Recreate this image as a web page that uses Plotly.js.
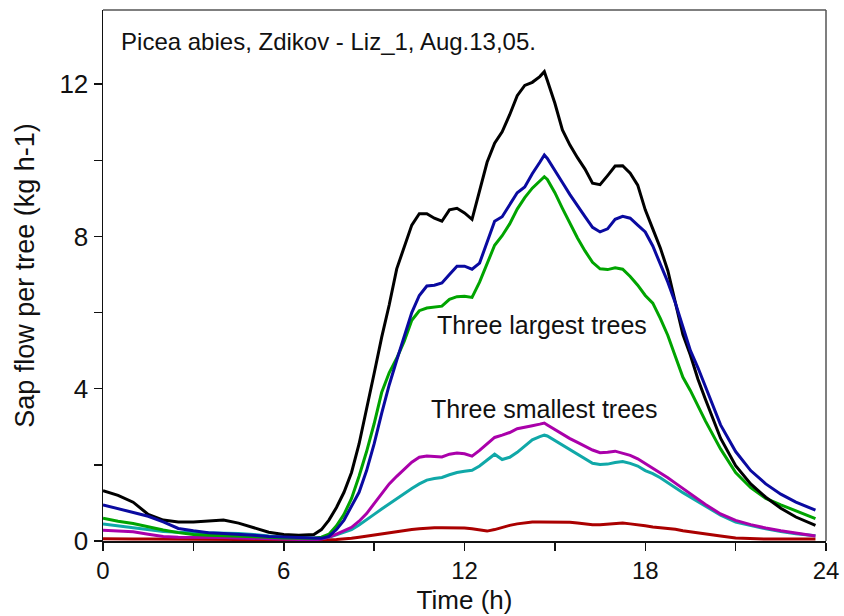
<!DOCTYPE html>
<html>
<head>
<meta charset="utf-8">
<script src="https://cdn.plot.ly/plotly-3.0.1.min.js"></script>
<style>
  html, body { margin: 0; padding: 0; background: #ffffff; }
  #chart { width: 844px; height: 616px; }
</style>
</head>
<body>
<div id="chart"></div>
<script>
// Time of day (h) shared by all six sap-flow series
const hours = [
  0, 0.5, 1, 1.5, 2, 2.5, 3, 3.5, 4, 4.5, 5, 5.5, 6, 6.5, 7,
  7.25, 7.5, 7.75, 8, 8.25, 8.5, 8.75, 9, 9.25, 9.5, 9.75, 10,
  10.25, 10.5, 10.75, 11, 11.25, 11.5, 11.75, 12, 12.25, 12.5, 12.75, 13,
  13.25, 13.5, 13.75, 14, 14.25, 14.5, 14.65, 14.75, 15, 15.25, 15.5, 15.75, 16,
  16.25, 16.5, 16.75, 17, 17.25, 17.5, 17.75, 18, 18.25, 18.5, 18.75, 19,
  19.25, 19.5, 19.75, 20,
  20.5, 21, 21.5, 22, 22.5, 23, 23.65
];

// Three largest trees (kg h-1)
const largeBlack = [
  1.32, 1.2, 1.02, 0.7, 0.55, 0.5, 0.5, 0.53, 0.55, 0.47, 0.35, 0.23, 0.17, 0.15, 0.17,
  0.3, 0.55, 0.88, 1.28, 1.8, 2.55, 3.45, 4.4, 5.35, 6.2, 7.15, 7.7,
  8.3, 8.6, 8.6, 8.48, 8.4, 8.7, 8.74, 8.62, 8.45, 9.2, 9.95, 10.45,
  10.75, 11.2, 11.7, 11.97, 12.05, 12.2, 12.33, 12.1, 11.5, 10.8, 10.4, 10.07, 9.77,
  9.4, 9.36, 9.6, 9.85, 9.86, 9.66, 9.35, 8.7, 8.2, 7.7, 7.1, 6.3,
  5.42, 4.88, 4.25, 3.72,
  2.7, 1.98, 1.5, 1.15, 0.86, 0.63, 0.41
];
const largeBlue = [
  0.95, 0.85, 0.76, 0.65, 0.5, 0.33, 0.27, 0.22, 0.2, 0.18, 0.15, 0.12, 0.1, 0.08, 0.07,
  0.07, 0.12, 0.3, 0.55, 0.9, 1.28, 1.85, 2.55, 3.35, 4.1, 4.75, 5.4,
  6.0, 6.45, 6.7, 6.72, 6.78, 7.0, 7.22, 7.22, 7.14, 7.3, 7.85, 8.4,
  8.52, 8.85, 9.15, 9.3, 9.65, 9.95, 10.14, 10.05, 9.72, 9.42, 9.1, 8.8, 8.52,
  8.24, 8.12, 8.2, 8.45, 8.53, 8.48, 8.3, 8.12, 7.75, 7.29, 6.8, 6.25,
  5.6, 5.0, 4.55, 4.05,
  3.05, 2.35, 1.85, 1.5, 1.23, 1.02, 0.81
];
const largeGreen = [
  0.6, 0.52, 0.46, 0.37, 0.29, 0.22, 0.17, 0.15, 0.14, 0.13, 0.12, 0.1, 0.08, 0.07, 0.07,
  0.1, 0.18, 0.4, 0.7, 1.12, 1.7, 2.35, 3.08, 3.9, 4.42, 4.8, 5.25,
  5.8, 6.05, 6.12, 6.15, 6.17, 6.35, 6.42, 6.43, 6.4, 6.8, 7.3, 7.77,
  8.02, 8.33, 8.72, 9.02, 9.27, 9.45, 9.57, 9.5, 9.15, 8.74, 8.35, 7.96, 7.62,
  7.32, 7.15, 7.13, 7.18, 7.14, 6.95, 6.72, 6.45, 6.25, 5.85, 5.4, 4.85,
  4.3, 3.95, 3.55, 3.15,
  2.42, 1.8, 1.4, 1.12, 0.95, 0.79, 0.59
];

// Three smallest trees (kg h-1)
const smallMagenta = [
  0.28, 0.26, 0.24, 0.18, 0.12, 0.1, 0.1, 0.09, 0.09, 0.08, 0.07, 0.06, 0.05, 0.03, 0.03,
  0.05, 0.1, 0.18, 0.26, 0.36, 0.52, 0.72, 0.98, 1.25, 1.5, 1.7, 1.88,
  2.07, 2.2, 2.23, 2.22, 2.21, 2.28, 2.31, 2.29, 2.23, 2.38, 2.56, 2.72,
  2.78, 2.85, 2.95, 3.0, 3.03, 3.07, 3.1, 3.05, 2.93, 2.8, 2.69, 2.59, 2.49,
  2.39, 2.32, 2.33, 2.36, 2.31, 2.25, 2.16, 2.04, 1.92, 1.78, 1.66, 1.52,
  1.38, 1.25, 1.12, 0.96,
  0.71, 0.54, 0.43, 0.34, 0.27, 0.21, 0.13
];
const smallCyan = [
  0.45, 0.4, 0.35, 0.3, 0.25, 0.23, 0.22, 0.21, 0.21, 0.2, 0.17, 0.13, 0.11, 0.08, 0.07,
  0.07, 0.1, 0.16, 0.23, 0.3, 0.42, 0.57, 0.7, 0.84, 0.98, 1.12, 1.25,
  1.38, 1.5, 1.6, 1.64, 1.67, 1.74, 1.8, 1.83, 1.86, 1.97, 2.12, 2.28,
  2.14, 2.2, 2.33, 2.5, 2.66, 2.74, 2.78, 2.76, 2.64, 2.51, 2.38, 2.27, 2.15,
  2.04, 2.01, 2.02, 2.06, 2.09, 2.04, 1.97, 1.85, 1.77, 1.66, 1.52, 1.4,
  1.27, 1.15, 1.02, 0.9,
  0.68, 0.5, 0.4, 0.32, 0.25, 0.19, 0.14
];
const smallRed = [
  0.06, 0.05, 0.05, 0.05, 0.05, 0.04, 0.04, 0.04, 0.04, 0.04, 0.03, 0.03, 0.02, 0.02, 0.02,
  0.02, 0.03, 0.04, 0.05, 0.07, 0.1, 0.13, 0.17, 0.2, 0.22, 0.25, 0.27,
  0.3, 0.32, 0.34, 0.35, 0.35, 0.35, 0.34, 0.34, 0.32, 0.29, 0.26, 0.3,
  0.36, 0.41, 0.45, 0.48, 0.5, 0.5, 0.5, 0.5, 0.5, 0.5, 0.49, 0.47, 0.45,
  0.43, 0.43, 0.44, 0.46, 0.47, 0.45, 0.43, 0.4, 0.37, 0.35, 0.33, 0.31,
  0.27, 0.24, 0.21, 0.18,
  0.13, 0.08, 0.06, 0.05, 0.05, 0.05, 0.05
];

// Axis ticks: every 3 h / 2 kg, labels on every second tick
const xTickVals = [0, 3, 6, 9, 12, 15, 18, 21, 24];
const xTickText = ['0', '', '6', '', '12', '', '18', '', '24'];
const yTickVals = [0, 2, 4, 6, 8, 10, 12];
const yTickText = ['0', '', '4', '', '8', '', '12'];

const FONT = '"Liberation Sans", Arial, Helvetica, sans-serif';

function line(y, color) {
  return {
    x: hours, y: y, type: 'scatter', mode: 'lines',
    line: { color: color, width: 3 },
    hoverinfo: 'skip', showlegend: false
  };
}

const traces = [
  line(smallRed, '#aa0000'),
  line(smallCyan, '#10a8a8'),
  line(smallMagenta, '#aa00aa'),
  line(largeGreen, '#00a400'),
  line(largeBlack, '#000000'),
  line(largeBlue, '#0a0aa0')
];

const layout = {
  width: 844, height: 616,
  margin: { l: 103, r: 18, t: 10, b: 75 },
  paper_bgcolor: '#ffffff', plot_bgcolor: '#ffffff',
  font: { family: FONT, color: '#111111' },
  title: {
    text: 'Picea abies, Zdikov - Liz_1, Aug.13,05.',
    font: { family: FONT, size: 24, color: '#111111' },
    xref: 'paper', x: 0.025, xanchor: 'left',
    yref: 'container', y: 1 - 42 / 616, yanchor: 'middle'
  },
  xaxis: {
    range: [0, 24], tickvals: xTickVals, ticktext: xTickText,
    ticks: 'outside', ticklen: 8, tickwidth: 1.5, tickcolor: '#111',
    showline: true, linecolor: '#111', linewidth: 1.5,
    showgrid: false, zeroline: false,
    tickfont: { family: FONT, size: 24, color: '#111' },
    title: { text: 'Time (h)', font: { family: FONT, size: 26, color: '#111' }, standoff: 7 }
  },
  yaxis: {
    range: [0, 13.95], tickvals: yTickVals, ticktext: yTickText,
    ticks: 'outside', ticklen: 8, tickwidth: 1.5, tickcolor: '#111',
    showline: true, linecolor: '#111', linewidth: 1.5,
    showgrid: false, zeroline: false,
    tickfont: { family: FONT, size: 26, color: '#111' },
    title: { text: 'Sap flow per tree (kg h-1)', font: { family: FONT, size: 27, color: '#111' }, standoff: 17 }
  },
  shapes: [
    { type: 'line', xref: 'paper', yref: 'paper', x0: 0, x1: 1, y0: 1, y1: 1,
      line: { color: '#555555', width: 1.5 } },
    { type: 'line', xref: 'paper', yref: 'paper', x0: 1, x1: 1, y0: 0, y1: 1,
      line: { color: '#555555', width: 1.5 } }
  ],
  annotations: [
    { x: 14.56, y: 5.67, xref: 'x', yref: 'y', text: 'Three largest trees',
      showarrow: false, font: { family: FONT, size: 25, color: '#111' } },
    { x: 14.64, y: 3.46, xref: 'x', yref: 'y', text: 'Three smallest trees',
      showarrow: false, font: { family: FONT, size: 25, color: '#111' } }
  ]
};

Plotly.newPlot('chart', traces, layout, { displayModeBar: false, staticPlot: true });
</script>
</body>
</html>
